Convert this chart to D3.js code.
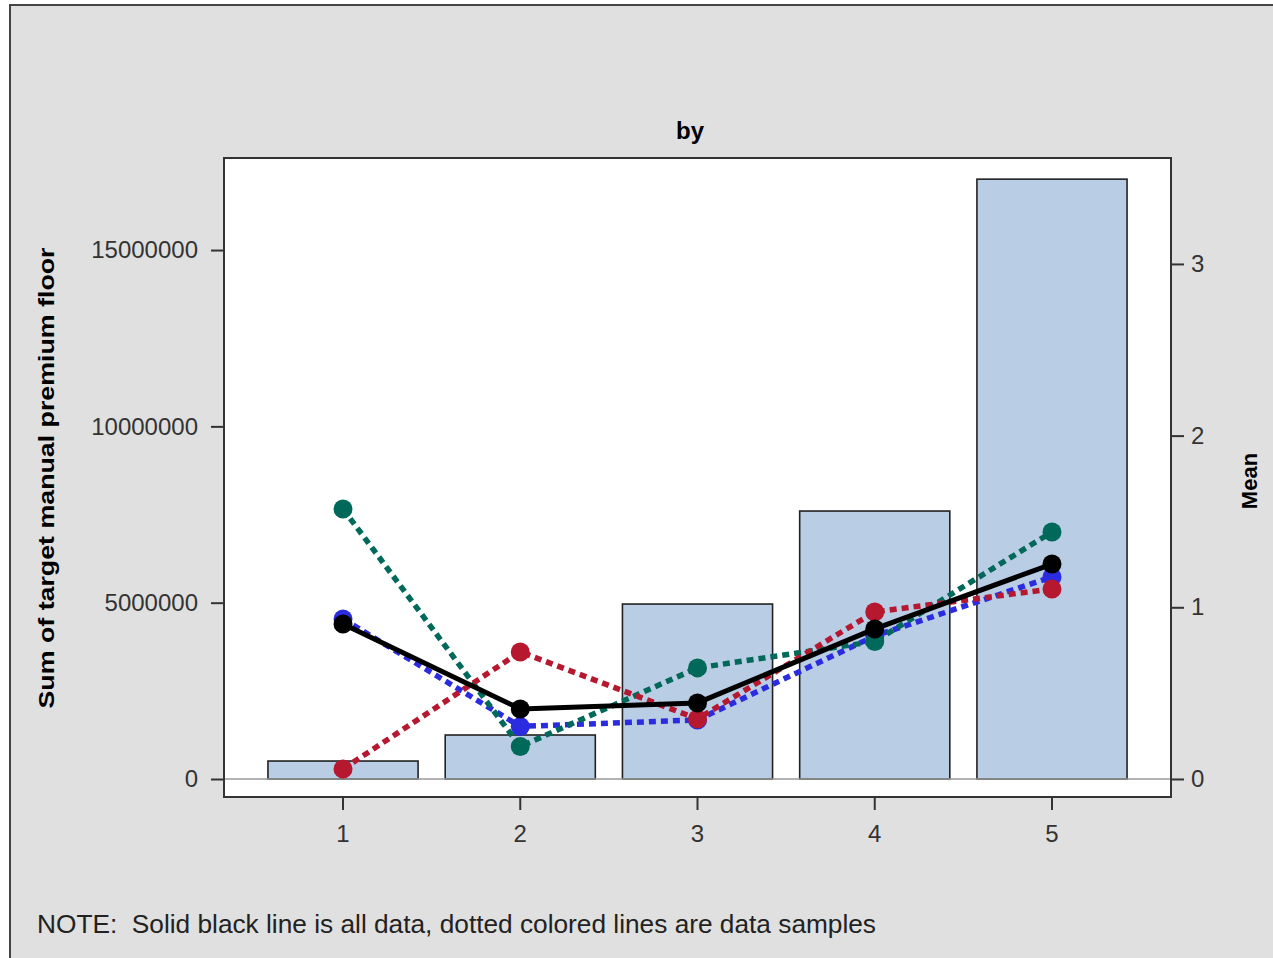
<!DOCTYPE html>
<html>
<head>
<meta charset="utf-8">
<script src="https://cdn.jsdelivr.net/npm/d3@7"></script>
<style>
  html, body { margin: 0; padding: 0; background: #ffffff; overflow: hidden; }
  svg { display: block; }
</style>
</head>
<body>
<svg id="chart" width="1273" height="958"></svg>
<script>
// Category levels on the x axis
const categories = [1, 2, 3, 4, 5];
// Bar values: sum of target manual premium floor per level
const barSums = [510000, 1248000, 4962000, 7599000, 17010000];
// Mean per level, all data (solid black line)
const meanAll = [0.903, 0.408, 0.443, 0.874, 1.252];
// Mean per level for each data sample (dotted colored lines)
const meanSampleBlue = [0.932, 0.306, 0.344, 0.833, 1.177];
const meanSampleGreen = [1.573, 0.189, 0.647, 0.801, 1.439];
const meanSampleRed = [0.058, 0.740, 0.350, 0.973, 1.107];
// Axis tick values
const leftTicks = [0, 5000000, 10000000, 15000000];
const rightTicks = [0, 1, 2, 3];

const svg = d3.select("#chart");
const FONT = "'Liberation Sans', Arial, sans-serif";

// Outer graph frame
svg.append("rect")
  .attr("x", 10).attr("y", 5)
  .attr("width", 1300).attr("height", 1000)
  .attr("fill", "#e0e0e0")
  .attr("stroke", "#444").attr("stroke-width", 2);

const plot = { left: 224, top: 158, right: 1171, bottom: 797 };

// Plot wall
svg.append("rect")
  .attr("x", plot.left).attr("y", plot.top)
  .attr("width", plot.right - plot.left).attr("height", plot.bottom - plot.top)
  .attr("fill", "#ffffff");

const x = d3.scaleBand()
  .domain(categories)
  .range([plot.left, plot.right])
  .paddingInner(0.153)
  .paddingOuter(0.248);

const yLeft = d3.scaleLinear()
  .domain([-510000, 17610000])
  .range([plot.bottom, plot.top]);

const yRight = d3.scaleLinear()
  .domain([-0.105, 3.617])
  .range([plot.bottom, plot.top]);

// Bars
svg.append("g")
  .selectAll("rect")
  .data(categories)
  .join("rect")
  .attr("x", d => x(d))
  .attr("width", x.bandwidth())
  .attr("y", (d, i) => yLeft(barSums[i]))
  .attr("height", (d, i) => yLeft(0) - yLeft(barSums[i]))
  .attr("fill", "#b9cde5")
  .attr("stroke", "#222")
  .attr("stroke-width", 1.6);

// Zero reference line
svg.append("line")
  .attr("x1", plot.left).attr("x2", plot.right)
  .attr("y1", yLeft(0)).attr("y2", yLeft(0))
  .attr("stroke", "#9a9a9a").attr("stroke-width", 1.5);

const cx = d => x(d) + x.bandwidth() / 2;

const series = [
  { values: meanSampleBlue, color: "#2b2be0", dash: "7,5", width: 5.5 },
  { values: meanSampleGreen, color: "#00695a", dash: "7,5", width: 5.5 },
  { values: meanSampleRed, color: "#b5182f", dash: "7,5", width: 5.5 },
  { values: meanAll, color: "#000000", dash: null, width: 5 }
];

const line = d3.line()
  .x(d => cx(d.cat))
  .y(d => yRight(d.val));

series.forEach(s => {
  const pts = categories.map((c, i) => ({ cat: c, val: s.values[i] }));
  const g = svg.append("g");
  g.append("path")
    .datum(pts)
    .attr("d", line)
    .attr("fill", "none")
    .attr("stroke", s.color)
    .attr("stroke-width", s.width)
    .attr("stroke-dasharray", s.dash)
    .attr("stroke-linejoin", "round");
  g.selectAll("circle")
    .data(pts)
    .join("circle")
    .attr("cx", d => cx(d.cat))
    .attr("cy", d => yRight(d.val))
    .attr("r", 9.5)
    .attr("fill", s.color);
});

// Plot frame
svg.append("rect")
  .attr("x", plot.left).attr("y", plot.top)
  .attr("width", plot.right - plot.left).attr("height", plot.bottom - plot.top)
  .attr("fill", "none")
  .attr("stroke", "#333").attr("stroke-width", 2);

function styleAxis(g) {
  g.select(".domain").remove();
  g.selectAll(".tick line").attr("stroke", "#333").attr("stroke-width", 2);
  g.selectAll(".tick text")
    .attr("fill", "#333")
    .style("font-family", FONT)
    .style("font-size", "24px");
}

svg.append("g")
  .attr("transform", `translate(${plot.left},0)`)
  .call(d3.axisLeft(yLeft).tickValues(leftTicks).tickFormat(d3.format("d")).tickSize(13).tickPadding(13))
  .call(styleAxis);

svg.append("g")
  .attr("transform", `translate(${plot.right},0)`)
  .call(d3.axisRight(yRight).tickValues(rightTicks).tickFormat(d3.format("d")).tickSize(13).tickPadding(7))
  .call(styleAxis);

svg.append("g")
  .attr("transform", `translate(0,${plot.bottom})`)
  .call(d3.axisBottom(x).tickSize(13).tickPadding(15))
  .call(styleAxis);

// Title
svg.append("text")
  .attr("x", 690).attr("y", 139)
  .attr("text-anchor", "middle")
  .style("font-family", FONT).style("font-size", "24px").style("font-weight", "bold")
  .text("by");

// Left axis label
svg.append("text")
  .attr("transform", "translate(54,478) rotate(-90)")
  .attr("text-anchor", "middle")
  .attr("textLength", 461)
  .attr("lengthAdjust", "spacingAndGlyphs")
  .style("font-family", FONT).style("font-size", "22px").style("font-weight", "bold")
  .text("Sum of target manual premium floor");

// Right axis label
svg.append("text")
  .attr("transform", "translate(1257,481) rotate(-90)")
  .attr("text-anchor", "middle")
  .style("font-family", FONT).style("font-size", "22px").style("font-weight", "bold")
  .text("Mean");

// Footnote
svg.append("text")
  .attr("x", 37).attr("y", 933)
  .attr("xml:space", "preserve")
  .attr("textLength", 839)
  .attr("lengthAdjust", "spacingAndGlyphs")
  .style("white-space", "pre")
  .style("font-family", FONT).style("font-size", "26px")
  .attr("fill", "#222")
  .text("NOTE:  Solid black line is all data, dotted colored lines are data samples");
</script>
</body>
</html>
